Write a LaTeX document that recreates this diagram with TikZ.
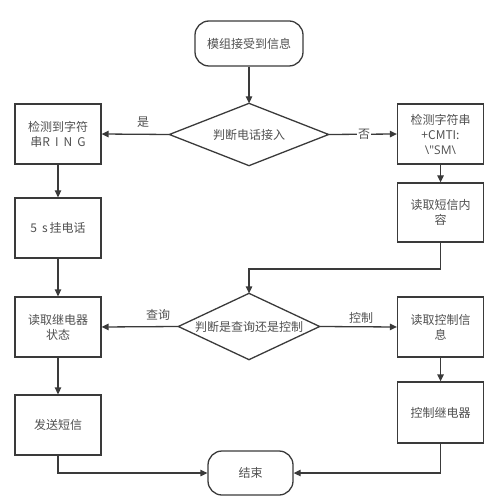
\documentclass[tikz,border=0pt]{standalone}
\usepackage{fontspec}
\setmainfont{Noto Sans CJK SC}
\newfontfamily\latinfont{Open Sans}
\usetikzlibrary{arrows.meta}
\definecolor{linegray}{HTML}{3A3A3A}
\definecolor{textgray}{HTML}{505050}

\begin{document}
\begin{tikzpicture}[x=1pt,y=-1pt,line width=1.3pt,draw=linegray,
    every node/.style={text=textgray,font=\fontsize{12}{15}\selectfont},
    box/.style={draw,minimum width=86pt,minimum height=60pt,align=center},
    term/.style={draw,rounded corners=14pt,minimum height=45pt,align=center},
    decide/.style={inner sep=0pt,align=center},
    arr/.style={draw=linegray,-{Triangle[length=7pt,width=6.5pt]}}]
  \useasboundingbox (0,0) rectangle (499,502);
  % start and first test
  \node[term,minimum width=108pt] (start) at (249,43.5) {模组接受到信息};
  \node[decide,minimum width=158pt,minimum height=61pt] (call) at (249,134.5) {判断电话接入};
  % left column
  \node[box] (ring) at (58,134) {检测到字符\\串R\hspace{5pt}I\hspace{5pt}N\hspace{5pt}G};
  \node[box] (hangup) at (58,228) {5\hspace{5pt}s\hspace{2pt}挂电话};
  \node[box] (relay) at (58,327) {读取继电器\\状态};
  \node[box] (sendsms) at (58,425) {发送短信};
  % right column
  \node[box] (cmti) at (440.5,134) {检测字符串\\+CMTI:\\{\latinfont\textbackslash\symbol{34}SM\textbackslash}};
  \node[box,minimum height=59pt] (readsms) at (440.5,212.5) {读取短信内\\容};
  \node[decide,minimum width=140pt,minimum height=65pt] (query) at (249,326.5) {判断是查询还是控制};
  \node[box] (readctl) at (440.5,327) {读取控制信\\息};
  \node[box,minimum height=61pt] (ctlrelay) at (440.5,412.5) {控制继电器};
  \node[term,minimum width=85pt,minimum height=44pt] (finish) at (250.5,473) {结束};
  \coordinate (bend) at (249,269);
  % diamond outlines
  \foreach \d in {call,query}
    \draw (\d.west) -- (\d.north) -- (\d.east) -- (\d.south) -- cycle;
  % connectors
  \draw[arr] (start) -- (call.north);
  \draw[arr] (call.west) -- (ring.east);
  \node (yes) at (143,122) {是};
  \draw[arr] (call.east) -- (cmti.west);
  \node[fill=white,inner sep=1pt] (no) at (364,134) {否};
  \draw[arr] (ring) -- (hangup);
  \draw[arr] (hangup) -- (relay);
  \draw[arr] (relay) -- (sendsms);
  \draw[arr] (cmti) -- (readsms);
  \draw[arr] (readsms.south) |- (bend) -- (query.north);
  \draw[arr] (query.west) -- (relay.east);
  \node (ask) at (158,315) {查询};
  \draw[arr] (query.east) -- (readctl.west);
  \node (ctl) at (361,318) {控制};
  \draw[arr] (readctl) -- (ctlrelay);
  \draw[arr] (sendsms.south) |- (finish.west);
  \draw[arr] (ctlrelay.south) |- (finish.east);
\end{tikzpicture}
\end{document}
